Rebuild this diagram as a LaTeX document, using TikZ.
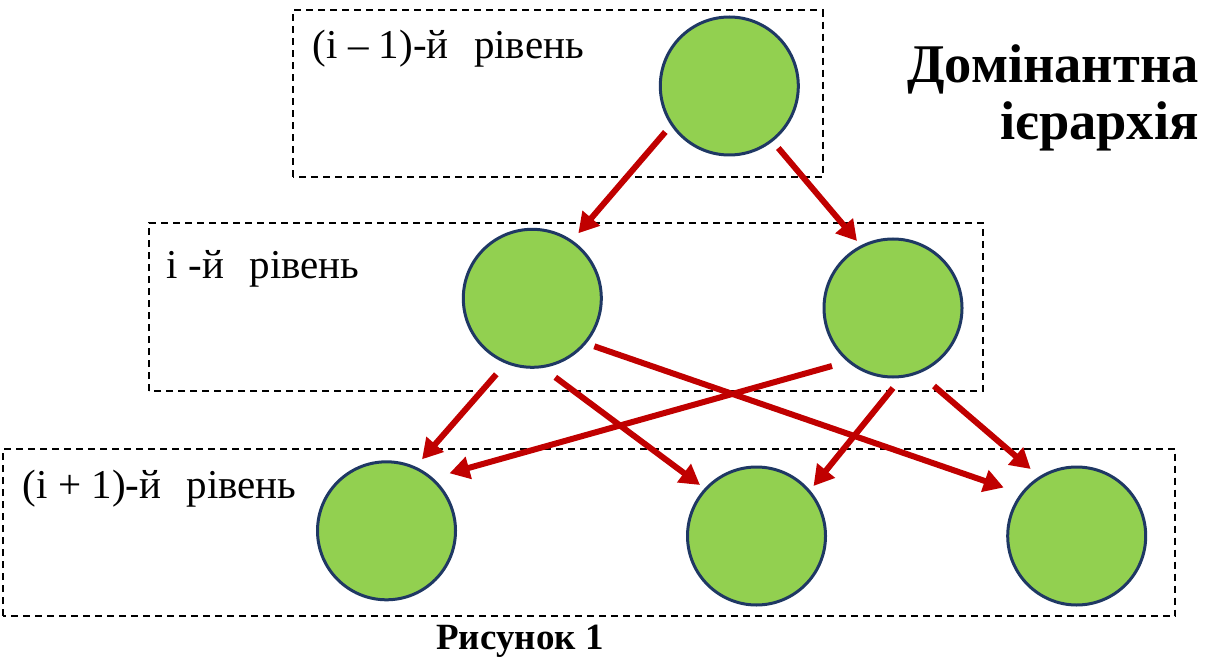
\documentclass[tikz,border=0pt]{standalone}
\usepackage{fontspec}
\setmainfont{Liberation Serif}
\usetikzlibrary{calc,arrows.meta}
\definecolor{cfill}{HTML}{92D050}
\definecolor{cedge}{HTML}{1F3864}
\definecolor{carrow}{HTML}{C00000}
\newcommand{\gapsp}{\hspace{0.62em}}
\tikzset{
  ball/.style={circle, draw=cedge, line width=3pt, fill=cfill, minimum size=138pt, inner sep=0pt},
  lvlbox/.style={draw=black, line width=1.9pt, dash pattern=on 7pt off 5pt},
  arr/.style={draw=carrow, line width=6pt, -{Triangle[length=20pt,width=22pt]}},
  lvltext/.style={anchor=base west, inner sep=0pt, font=\fontsize{41}{48}\selectfont},
  titletext/.style={anchor=base east, inner sep=0pt, font=\fontsize{54.5}{62}\selectfont\bfseries},
  captext/.style={anchor=base, inner sep=0pt, font=\fontsize{37}{44}\selectfont\bfseries}
}
\begin{document}
\begin{tikzpicture}[x=1pt,y=1pt]
\useasboundingbox (0,0) rectangle (1206,657);
% level boxes
\draw[lvlbox] (293,480.3) rectangle (822.7,647);
\draw[lvlbox] (149,266) rectangle (983,434);
\draw[lvlbox] (3,41) rectangle (1175.3,208);
% labels
\node[lvltext] (l1) at (312.7,598.7) {(i – 1)-й\gapsp рівень};
\node[lvltext] (l2) at (166.7,379) {i -й\gapsp рівень};
\node[lvltext] (l3) at (22.7,159) {(i + 1)-й\gapsp рівень};
\node[titletext] (t1) at (1199,574) {Домінантна};
\node[titletext] (t2) at (1199,517) {ієрархія};
\node[captext] (cap) at (520,8) {Рисунок 1};
% circles
\node[ball] (top) at (729.3,571) {};
\node[ball] (ml) at (532.3,358.7) {};
\node[ball] (mr) at (893,349) {};
\node[ball] (bl) at (386.5,126.2) {};
\node[ball] (bm) at (756.5,121) {};
\node[ball] (br) at (1076.7,121) {};
% arrows
\draw[arr] ($(top)+(-64,-46)$) -- ($(ml)+(46,65)$);
\draw[arr] ($(top)+(49,-62)$) -- ($(mr)+(-36,67)$);
\draw[arr] ($(ml)+(-36,-76)$) -- ($(bl)+(35.5,71.5)$);
\draw[arr] ($(ml)+(23,-79)$) -- ($(bm)+(-56.5,51)$);
\draw[arr] ($(ml)+(62,-48)$) -- ($(br)+(-73,48.5)$);
\draw[arr] ($(mr)+(-61,-58)$) -- ($(bl)+(63,57.5)$);
\draw[arr] ($(mr)+(0,-80)$) -- ($(bm)+(57,50)$);
\draw[arr] ($(mr)+(41,-78)$) -- ($(br)+(-46,67)$);
\end{tikzpicture}
\end{document}
